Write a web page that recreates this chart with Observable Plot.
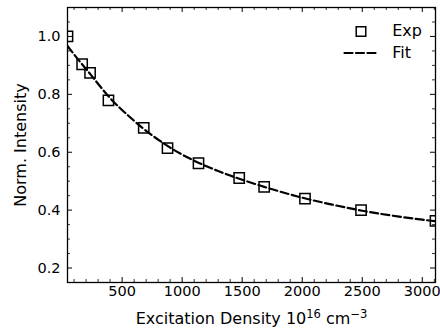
<!DOCTYPE html>
<html>
<head>
<meta charset="utf-8">
<script src="https://cdn.jsdelivr.net/npm/d3@7"></script>
<script src="https://cdn.jsdelivr.net/npm/@observablehq/plot@0.6"></script>
<style>
  html, body { margin: 0; padding: 0; background: #fff; }
</style>
</head>
<body>
<div id="chart"></div>
<script>
// Experimental points
const expX = [45, 167, 233, 386, 680, 878, 1136, 1475, 1683, 2023, 2490, 3110];
const expY = [1.0, 0.904, 0.874, 0.779, 0.684, 0.614, 0.562, 0.511, 0.480, 0.440, 0.400, 0.363];
// Fit curve
const fitX = [45, 150, 250, 400, 550, 700, 900, 1100, 1300, 1500, 1750, 2000, 2250, 2500, 2750, 3000, 3110];
const fitY = [0.967, 0.912, 0.862, 0.787, 0.727, 0.674, 0.616, 0.571, 0.535, 0.505, 0.472, 0.443, 0.419, 0.398, 0.381, 0.367, 0.362];
// Tick labels
const xTicks = [500, 1000, 1500, 2000, 2500, 3000];
const yTicks = [0.2, 0.4, 0.6, 0.8, 1.0];
const xMinor = d3.range(100, 3101, 100).filter(v => v % 500 !== 0);
const yMinor = [0.15, 0.25, 0.3, 0.35, 0.45, 0.5, 0.55, 0.65, 0.7, 0.75, 0.85, 0.9, 0.95, 1.05, 1.1];
const legendLabels = ["Exp", "Fit"];
// x label pieces: [text, isSuperscript]
const xLabelParts = [["Excitation Density 10", false], ["16", true], [" cm", false], ["\u22123", true]];
const xLabel = xLabelParts.map(p => p[0]).join("");
const yLabel = "Norm. Intensity";

const exp = expX.map((x, i) => ({x, y: expY[i]}));
const fit = fitX.map((x, i) => ({x, y: fitY[i]}));

const W = 440, H = 333, mL = 67, mR = 5, mT = 7, mB = 51;
const FW = W - mL - mR, FH = H - mT - mB;
const major = 5, minor = 3;
const FS = 16, TFS = 14.5;

const lineShape = {draw(ctx, l) { ctx.moveTo(0, 0); ctx.lineTo(0, -l); }};

const chart = Plot.plot({
  width: W, height: H,
  marginLeft: mL, marginRight: mR, marginTop: mT, marginBottom: mB,
  style: {fontFamily: "'DejaVu Sans', sans-serif", fontSize: FS + "px", color: "#000", background: "#fff"},
  x: {domain: [d3.min(expX), d3.max(expX)], label: null},
  y: {domain: [0.15, 1.1], label: null},
  marks: [
    // fit curve
    Plot.line(fit, {x: "x", y: "y", stroke: "#000", strokeWidth: 2.2, strokeDasharray: "8,3.5", curve: "natural", clip: "frame"}),
    // experimental points
    Plot.dot(exp, {x: "x", y: "y", symbol: "square", r: 5.8, stroke: "#000", strokeWidth: 1.5, fill: "none", clip: "frame"}),
    // inward ticks
    Plot.tickX(xTicks, {x: d => d, insetTop: FH - major, stroke: "#000", strokeWidth: 1}),
    Plot.tickX(xTicks, {x: d => d, insetBottom: FH - major, stroke: "#000", strokeWidth: 1}),
    Plot.tickX(xMinor, {x: d => d, insetTop: FH - minor, stroke: "#000", strokeWidth: 0.8}),
    Plot.tickX(xMinor, {x: d => d, insetBottom: FH - minor, stroke: "#000", strokeWidth: 0.8}),
    Plot.tickY(yTicks, {y: d => d, insetRight: FW - major, stroke: "#000", strokeWidth: 1}),
    Plot.tickY(yTicks, {y: d => d, insetLeft: FW - major, stroke: "#000", strokeWidth: 1}),
    Plot.tickY(yMinor, {y: d => d, insetRight: FW - minor, stroke: "#000", strokeWidth: 0.8}),
    Plot.tickY(yMinor, {y: d => d, insetLeft: FW - minor, stroke: "#000", strokeWidth: 0.8}),
    // axes labels
    Plot.axisX(xTicks, {tickSize: 0, tickPadding: 3, fontSize: TFS, label: null, tickFormat: d3.format("d")}),
    Plot.axisY(yTicks, {tickSize: 0, tickPadding: 7, fontSize: TFS, label: null, tickFormat: d3.format(".1f")}),
    Plot.frame({stroke: "#000", strokeWidth: 1.3}),
    Plot.text([xLabel], {text: d => d, frameAnchor: "bottom", dy: 36.4, textAnchor: "middle", lineAnchor: "middle", fontSize: FS}),
    Plot.text([yLabel], {text: d => d, frameAnchor: "left", dx: -47, rotate: -90, textAnchor: "middle", lineAnchor: "middle", fontSize: FS}),
    // legend
    Plot.dot([0], {frameAnchor: "top-right", dx: -74.5, dy: 24, symbol: "square", r: 5.4, stroke: "#000", strokeWidth: 1.5, fill: "none"}),
    Plot.vector([0], {frameAnchor: "top-right", dx: -91, dy: 45.5, length: 34, rotate: 90, anchor: "start", shape: lineShape, stroke: "#000", strokeWidth: 2.2, strokeDasharray: "8,3.5", fill: "none"}),
    Plot.text([legendLabels[0]], {text: d => d, frameAnchor: "top-right", dx: -43.3, dy: 23.7, textAnchor: "start", lineAnchor: "middle", fontSize: FS}),
    Plot.text([legendLabels[1]], {text: d => d, frameAnchor: "top-right", dx: -43.3, dy: 45.5, textAnchor: "start", lineAnchor: "middle", fontSize: FS})
  ]
});

// Render superscripts in the x-axis label as tspans
chart.querySelectorAll("text").forEach(t => {
  if (t.textContent === xLabel) {
    while (t.firstChild) t.removeChild(t.firstChild);
    let raised = false;
    xLabelParts.forEach(([s, sup]) => {
      const ts = document.createElementNS("http://www.w3.org/2000/svg", "tspan");
      ts.textContent = s;
      if (sup) {
        ts.setAttribute("font-size", "11.5");
        if (!raised) { ts.setAttribute("dy", "-6.5"); raised = true; }
      } else if (raised) {
        ts.setAttribute("dy", "6.5"); raised = false;
      }
      t.appendChild(ts);
    });
  }
});
document.getElementById("chart").appendChild(chart);
</script>
</body>
</html>
